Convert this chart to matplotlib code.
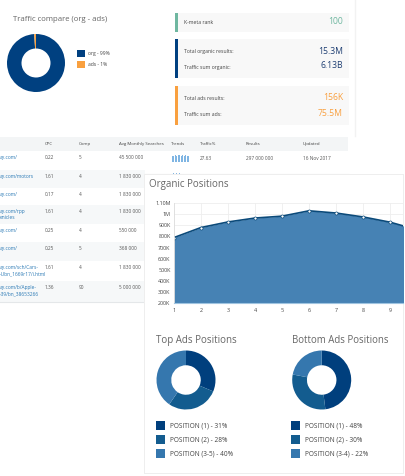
import numpy as np
from matplotlib import pyplot as plt
from matplotlib.patches import Rectangle

plt.rcParams['font.family'] = ['Open Sans', 'DejaVu Sans']

W, H = 405, 476

# data
traffic_labels = ['org - 99%', 'ads - 1%']
traffic_values = [99, 1]

organic_x = [1, 2, 3, 4, 5, 6, 7, 8, 9, 10]
organic_y = [790000, 880000, 930000, 965000, 982000, 1030000, 1010000, 975000, 928000, 860000]
organic_ticks = [200000, 300000, 400000, 500000, 600000, 700000, 800000, 900000, 1000000, 1100000]
organic_ticklabels = ['200K', '300K', '400K', '500K', '600K', '700K', '800K', '900K', '1M', '1.10M']

top_labels = ['POSITION (1) - 31%', 'POSITION (2) - 28%', 'POSITION (3-5) - 40%']
top_values = [31, 28, 40]
bottom_labels = ['POSITION (1) - 48%', 'POSITION (2) - 30%', 'POSITION (3-4) - 22%']
bottom_values = [48, 30, 22]

headers = ['CPC', 'Comp', 'Avg Monthly Searches', 'Trends', 'Traffic%', 'Results', 'Updated']
header_x = [45, 79, 119, 171, 200, 246, 303]
urls = ['ay.com/', 'ay.com/motors', 'ay.com/', 'ay.com/rpp\nenicles', 'ay.com/', 'ay.com/',
        'ay.com/sch/Cars-\n-Ubn_1669r17/i.html', 'ay.com/b/Apple-\n-39/bn_38653266']
cpc = ['0.22', '1.61', '0.17', '1.61', '0.25', '0.25', '1.61', '1.36']
comp = ['5', '4', '4', '4', '4', '5', '4', '90']
searches = ['45 500 000', '1 830 000', '1 830 000', '1 830 000', '550 000', '368 000', '1 830 000', '5 000 000']
row_edges = [151, 170, 188, 205, 224, 242, 261, 281, 302]
trend_bars = [6, 6, 7, 6, 7, 7, 6, 7, 6, 7, 6, 6]

BLUE = '#004080'
ORANGE = '#f9a03f'
GREEN = '#6fb7a0'
POS_COLORS = ['#003f7d', '#135c8f', '#3577ae']
GREY_TEXT = '#666666'


def inset(x0, y0, x1, y1, zorder=5):
    # axes from pixel box, y measured from the top
    return fig.add_axes([x0 / W, 1 - y1 / H, (x1 - x0) / W, (y1 - y0) / H], zorder=zorder)


def donut(cx, cy, r, values, colors, width):
    a = inset(cx - r, cy - r, cx + r, cy + r)
    a.pie(values, colors=colors, startangle=90, counterclock=False, radius=1,
          wedgeprops=dict(width=width, linewidth=0))
    a.set(xlim=(-1, 1), ylim=(-1, 1))
    a.set_aspect('equal')
    a.axis('off')


fig = plt.figure(figsize=(W / 100, H / 100), dpi=100, facecolor='white')
bg = fig.add_axes([0, 0, 1, 1], zorder=1)
bg.set(xlim=(0, W), ylim=(H, 0))
bg.axis('off')

# page edge
bg.plot([355, 355], [0, 136], color='#f2f2f2', lw=1)

# top left donut
bg.text(13, 19.5, 'Traffic compare (org - ads)', fontsize=5.6, color=GREY_TEXT, va='center')
donut(36, 63, 29, traffic_values, [BLUE, ORANGE], 0.5)
for i, lab in enumerate(traffic_labels):
    y = 53 + i * 11
    bg.add_patch(Rectangle((77, y - 3.5), 7.5, 7.5, color=[BLUE, ORANGE][i], lw=0))
    bg.text(88, y, lab, fontsize=3.6, color='#444444', va='center')

# summary cards
cards = [
    (13, 32, GREEN, [('K-meta rank', '100', 21)]),
    (39, 78, BLUE, [('Total organic results:', '15.3M', 51), ('Traffic sum organic:', '6.13B', 66)]),
    (86, 125, ORANGE, [('Total ads results:', '156K', 98), ('Traffic sum ads:', '75.5M', 113)]),
]
for y0, y1, col, rows in cards:
    bg.add_patch(Rectangle((175, y0), 174, y1 - y0, color='#f8f8f8', lw=0))
    bg.add_patch(Rectangle((175, y0), 3, y1 - y0, color=col, lw=0))
    for lab, val, y in rows:
        bg.text(184, y + 1, lab, fontsize=3.7, color='#444444', va='center')
        bg.text(343, y, val, fontsize=6.2, color='#1f3f73' if col == BLUE else col, va='center', ha='right')

# keyword table
bg.add_patch(Rectangle((0, 137), 348, 14, color='#f3f5f6', lw=0))
for hx, hd in zip(header_x, headers):
    bg.text(hx, 144, hd, fontsize=3.2, color='#444444', va='center')
for i in range(len(urls)):
    y0, y1 = row_edges[i], row_edges[i + 1]
    if i % 2 == 1:
        bg.add_patch(Rectangle((0, y0), 145, y1 - y0, color='#f6f8f9', lw=0))
    ty = y0 + 6.5
    bg.text(0, ty - 2.5, urls[i], fontsize=3.5, color='#2a79b5', va='top', linespacing=1.35)
    bg.text(45, ty, cpc[i], fontsize=3.4, color='#555555', va='center')
    bg.text(79, ty, comp[i], fontsize=3.4, color='#555555', va='center')
    bg.text(119, ty, searches[i], fontsize=3.4, color='#555555', va='center')
bg.plot([0, 145], [302, 302], color='#e4e7e9', lw=0.8)
bg.plot([145, 348], [174, 174], color='#e8eaeb', lw=0.8)
bg.text(200, 158, '27.63', fontsize=3.4, color='#555555', va='center')
bg.text(246, 158, '297 000 000', fontsize=3.4, color='#555555', va='center')
bg.text(303, 158, '16 Nov 2017', fontsize=3.4, color='#555555', va='center')
bar_x = 171.5 + np.arange(len(trend_bars)) * 1.5
bg.bar(bar_x, trend_bars, width=1.3, bottom=162 - np.array(trend_bars), color='#7fb5e3', align='edge')
bg.bar(173 + np.arange(3) * 3, [2, 2, 2], width=1.4, bottom=172.5, color='#7fb5e3', align='edge')

# overlay card
bg.add_patch(Rectangle((144, 174), 260, 300, color='#eeeeee', lw=0, zorder=3))
bg.add_patch(Rectangle((145, 175), 258, 298, color='white', lw=0, zorder=3))
bg.text(149, 184, 'Organic Positions', fontsize=7.0, color=GREY_TEXT, va='center', zorder=4)

# area chart, x=1 at px 174, x=9 at px 390, 200K at px 303, 1.10M at px 203
ax = inset(174, 203, 403, 303.3)
ax.fill_between(organic_x, organic_y, 200000, color='#4682b4', lw=0)
ax.plot(organic_x, organic_y, color='#0b4a7a', lw=1.2)
ax.plot(organic_x, organic_y, 'o', ms=2.2, mfc='white', mec='#0b4a7a', mew=0.5)
ax.set_xlim(1, 1 + 229 / 27)
ax.set_ylim(200000, 1100000)
ax.set_xticks(organic_x[:9])
ax.set_yticks(organic_ticks, organic_ticklabels)
ax.tick_params(length=0, labelsize=3.9, labelcolor='#444444', pad=2.5)
ax.tick_params(axis='x', pad=3.5)
ax.grid(color='#eeeeee', lw=0.6)
ax.set_axisbelow(True)
for s in ['top', 'right']:
    ax.spines[s].set_visible(False)
ax.spines['left'].set_color('#dddddd')
ax.spines['bottom'].set_color('#9fc4e0')
ax.spines['left'].set_linewidth(0.6)

# ads donuts
bg.text(156, 340.5, 'Top Ads Positions', fontsize=7.0, color=GREY_TEXT, va='center', zorder=4)
bg.text(292, 340.5, 'Bottom Ads Positions', fontsize=6.95, color=GREY_TEXT, va='center', zorder=4)
donut(186, 380, 29.5, top_values, POS_COLORS, 0.5)
donut(321.7, 380, 29.5, bottom_values, POS_COLORS, 0.5)
for sx, labels in [(156, top_labels), (291, bottom_labels)]:
    for i, lab in enumerate(labels):
        y = 425.5 + i * 14
        bg.add_patch(Rectangle((sx, y - 4.5), 9.3, 9.3, color=POS_COLORS[i], lw=0, zorder=4))
        bg.text(sx + 14, y + 0.3, lab, fontsize=4.7, color='#444444', va='center', zorder=4)

fig.savefig('out.png', dpi=100)
